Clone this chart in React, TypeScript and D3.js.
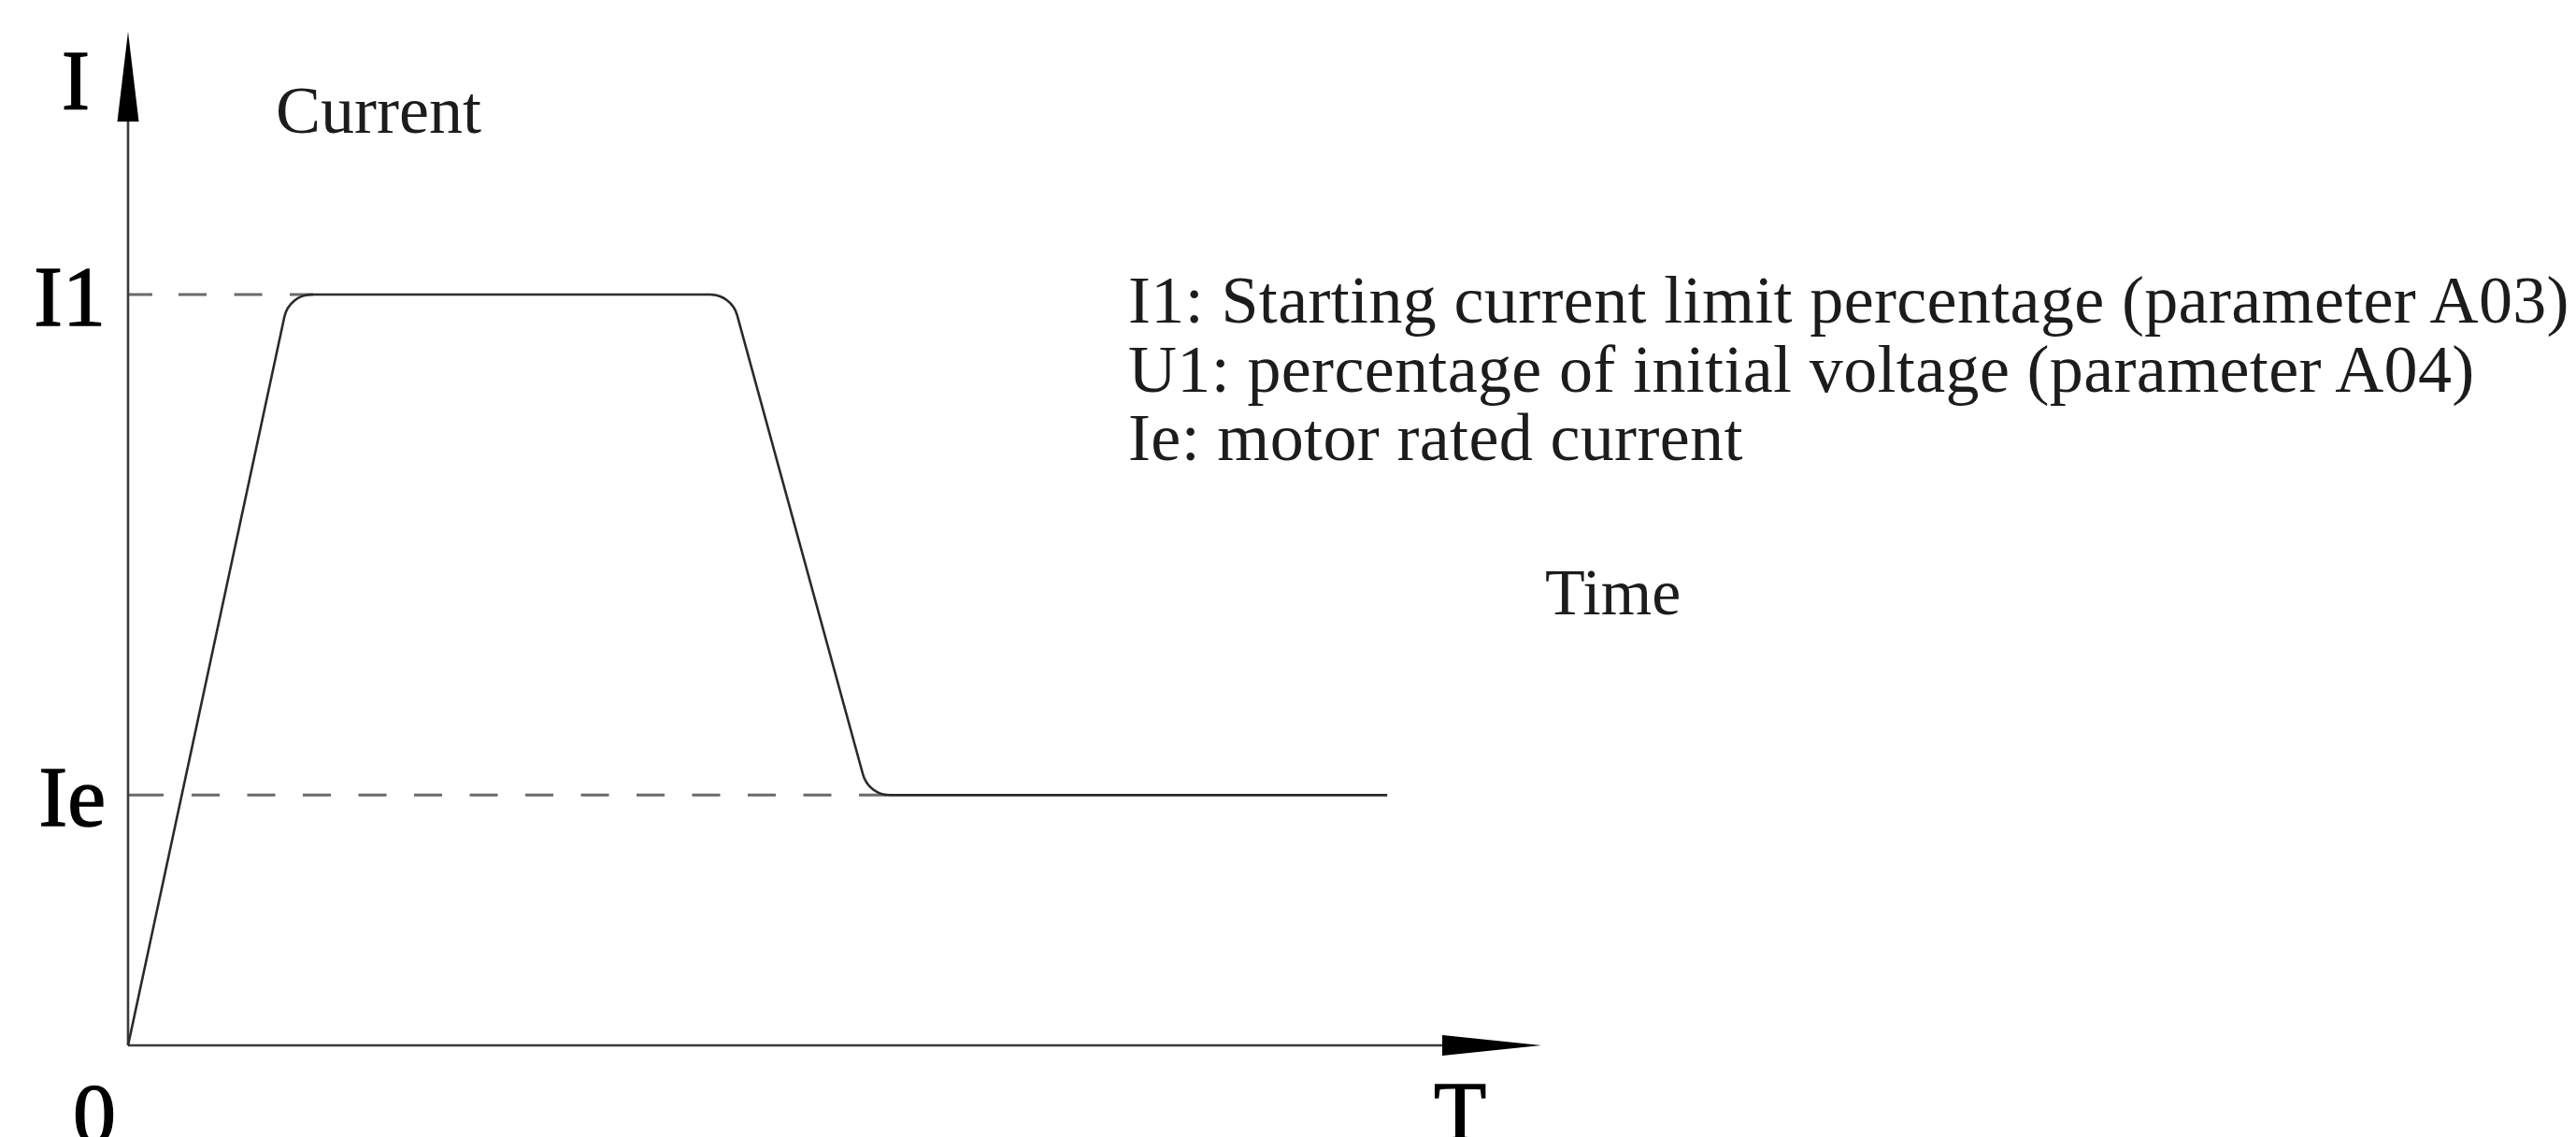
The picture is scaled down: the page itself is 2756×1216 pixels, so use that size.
import { useEffect } from 'react';
import * as d3 from 'd3';

// curve key points: T (relative time units) and current (multiples of Ie)
const curveTimes = [0, 11.4, 42.7, 52.4, 89.1];
const curveCurrents = [0, 3, 3, 1, 1];

// reference levels on the current axis
const levelLabels = ['I1', 'Ie'];
const levelValues = [3, 1];
const levelEndTimes = [13.1, 53.9];

const legendLines = [
    'I1: Starting current limit percentage (parameter A03)',
    'U1: percentage of initial voltage (parameter A04)',
    'Ie: motor rated current',
];

const W = 2756;
const H = 1216;
const ink = '#1c1c1c';
const lineInk = '#3a3a3a';
const dashInk = '#6a6a6a';

export default function App() {
    useEffect(() => {
        document.body.style.margin = '0';
    }, []);

    const x = d3.scaleLinear().domain([0, 100]).range([137, 1649]);
    const y = d3.scaleLinear().domain([0, 4.05]).range([1118, 34]);

    const x0 = x(0);
    const y0 = y(0);

    // polyline with rounded corners using d3.path arcTo
    const pts = curveTimes.map((t, i) => [x(t), y(curveCurrents[i])] as [number, number]);
    const corner = [0, 30, 30, 30, 0];
    const p = d3.path();
    p.moveTo(pts[0][0], pts[0][1]);
    for (let i = 1; i < pts.length - 1; i++) {
        p.arcTo(pts[i][0], pts[i][1], pts[i + 1][0], pts[i + 1][1], corner[i]);
    }
    p.lineTo(pts[pts.length - 1][0], pts[pts.length - 1][1]);

    const dashFirst = [[26, 28], [38, 30]];
    const dashArray = (k: number) => {
        const arr = [...dashFirst[k]];
        for (let i = 0; i < 20; i++) arr.push(30, 29.5);
        return arr.join(' ');
    };

    const yArrowBase = 130;
    const xArrowBase = 1543;

    const serif = '"Liberation Serif", "Times New Roman", serif';

    return (
        <svg width={W} height={H} style={{ display: 'block', background: '#fff' }} fontFamily={serif}>
            {/* reference levels */}
            {levelValues.map((v, k) => (
                <line
                    key={levelLabels[k]}
                    x1={x0}
                    x2={x(levelEndTimes[k])}
                    y1={y(v)}
                    y2={y(v)}
                    stroke={dashInk}
                    strokeWidth={3}
                    strokeDasharray={dashArray(k)}
                />
            ))}

            {/* axes */}
            <line x1={x0} x2={x0} y1={y0} y2={yArrowBase} stroke={lineInk} strokeWidth={2.6} />
            <line x1={x0} x2={xArrowBase} y1={y0} y2={y0} stroke={lineInk} strokeWidth={2.6} />
            <path d={`M${x0},${y(4.05)} L${x0 + 11.5},${yArrowBase} L${x0 - 11.5},${yArrowBase} Z`} fill="#000" />
            <path d={`M${x(100)},${y0} L${xArrowBase},${y0 - 11} L${xArrowBase},${y0 + 11} Z`} fill="#000" />

            {/* current curve */}
            <path d={p.toString()} fill="none" stroke="#2a2a2a" strokeWidth={2.6} strokeLinejoin="round" />

            {/* axis letters */}
            <g fill="#000" stroke="#000" strokeWidth={1.4}>
                <text x={81} y={117} fontSize={90} textAnchor="middle">I</text>
                {levelValues.map((v, k) => (
                    <text key={levelLabels[k]} x={113} y={y(v) + 33} fontSize={92} textAnchor="end">
                        {levelLabels[k]}
                    </text>
                ))}
                <text x={101} y={1222} fontSize={92} textAnchor="middle">0</text>
                <text x={1562} y={1220} fontSize={92} textAnchor="middle">T</text>
            </g>

            {/* annotations */}
            <text x={295} y={142} fontSize={72} fill={ink}>Current</text>
            {legendLines.map((s, i) => (
                <text key={s} x={1207} y={345 + i * 73.5} fontSize={72} fill={ink} letterSpacing={0.35}>{s}</text>
            ))}
            <text x={1653} y={657} fontSize={70} fill={ink}>Time</text>
        </svg>
    );
}
